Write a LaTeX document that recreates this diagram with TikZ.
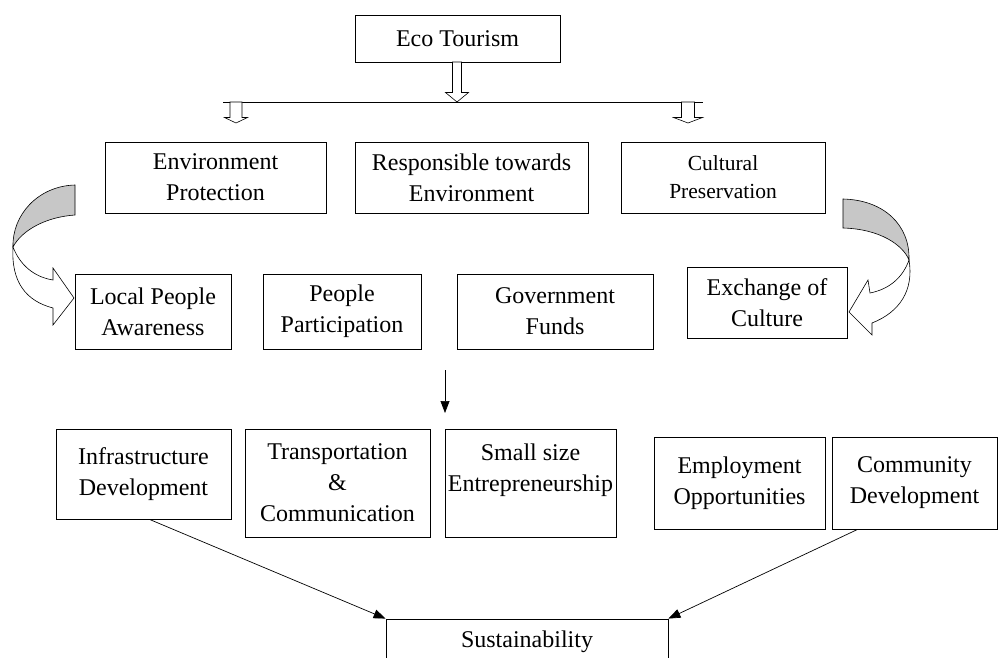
\documentclass[tikz,border=0pt]{standalone}
\usepackage{fontspec}
\setmainfont{Liberation Serif}
\usetikzlibrary{arrows.meta}
\tikzset{
  box/.style={draw, line width=0.8pt, align=center, inner sep=0pt,
    font=\fontsize{24}{31}\selectfont},
  hollow/.style={draw, line width=0.6pt, fill=white},
  band/.style={draw, line width=0.6pt, fill=black!22},
  tip/.style={-{Triangle[length=12pt,width=9pt]}, line width=0.7pt},
}
% hollow down arrow: x, top, tip, stem half width, head half width, head length
\newcommand\hollowdown[6]{%
  \draw[hollow] (#1-#4,#2) -- (#1+#4,#2) -- (#1+#4,#3-#6) -- (#1+#5,#3-#6)
    -- (#1,#3) -- (#1-#5,#3-#6) -- (#1-#4,#3-#6) -- cycle;}
\begin{document}
\begin{tikzpicture}[x=1pt,y=-1pt]
\useasboundingbox (0,0) rectangle (999,658);
\clip (0,0) rectangle (999,658);
\node[box, minimum width=205, minimum height=47] (eco) at (457.5,38.5) {Eco Tourism};
\node[box, minimum width=221, minimum height=71] (envprot) at (215.5,177.5) {Environment\\Protection};
\node[box, minimum width=233, minimum height=71] (resp) at (471.5,177.5) {Responsible towards\\Environment};
\node[box, minimum width=204, minimum height=71, font=\fontsize{21.5}{28}\selectfont] (cult) at (723,177.5) {Cultural\\Preservation};
\node[box, minimum width=156, minimum height=75] (local) at (153,311.5) {Local People\\Awareness};
\node[box, minimum width=158, minimum height=75] (partic) at (342,311.5) {People\\Participation};
\node[box, minimum width=196, minimum height=75] (funds) at (555,311.5) {Government\\Funds};
\node[box, minimum width=160, minimum height=71] (exch) at (767,302.5) {Exchange of\\Culture};
\node[box, minimum width=175, minimum height=90] (infra) at (143.5,474) {Infrastructure\\Development};
\node[box, minimum width=185, minimum height=108] (trans) at (337.5,483) {Transportation\\\&\\Communication};
\node[box, minimum width=171, minimum height=108] (small) at (530.5,483) {Small size\\Entrepreneurship\\\mbox{}};
\node[box, minimum width=171, minimum height=92] (employ) at (739.5,483) {Employment\\Opportunities};
\node[box, minimum width=165, minimum height=92] (commun) at (914.5,483) {Community\\Development};
\node[box, minimum width=282, minimum height=46] (sustain) at (527,642) {Sustainability};
% branch under Eco Tourism
\coordinate (brL) at (223,102);
\coordinate (brR) at (703,102);
\draw[line width=0.8pt] (brL) -- (brR);
\hollowdown{457}{62}{102}{4.5}{11.5}{9.5}
\hollowdown{236}{102}{123}{6}{11.5}{5.5}
\hollowdown{688}{102}{123}{6.5}{14.5}{5.5}
% curved arrows
\draw[band] (75,185) -- (75,215) .. controls (46,217) and (22,230) .. (13,247)
  .. controls (12,215) and (38,186) .. (75,185) -- cycle;
\draw[hollow] (13,247) .. controls (20,265) and (34,277) .. (53,280) -- (53,268)
  -- (74,298) -- (53,325) -- (53,308) .. controls (26,301) and (11,282) .. (13,247) -- cycle;
\draw[band] (843,199) .. controls (884,200) and (910,225) .. (909,260)
  .. controls (903,245) and (880,229) .. (843,228) -- cycle;
\draw[hollow] (909,260) .. controls (903,277) and (890,289) .. (870,293) -- (868,280)
  -- (849,312) -- (872,335) -- (872,323) .. controls (900,312) and (914,290) .. (909,260) -- cycle;
% down to the bottom row
\coordinate (midA) at (445,370);
\coordinate (midB) at (445,413);
\draw[tip] (midA) -- (midB);
\draw[tip] ([xshift=6]infra.south) -- (sustain.north west);
\draw[tip] ([xshift=26]commun.south west) -- (sustain.north east);
\end{tikzpicture}
\end{document}
